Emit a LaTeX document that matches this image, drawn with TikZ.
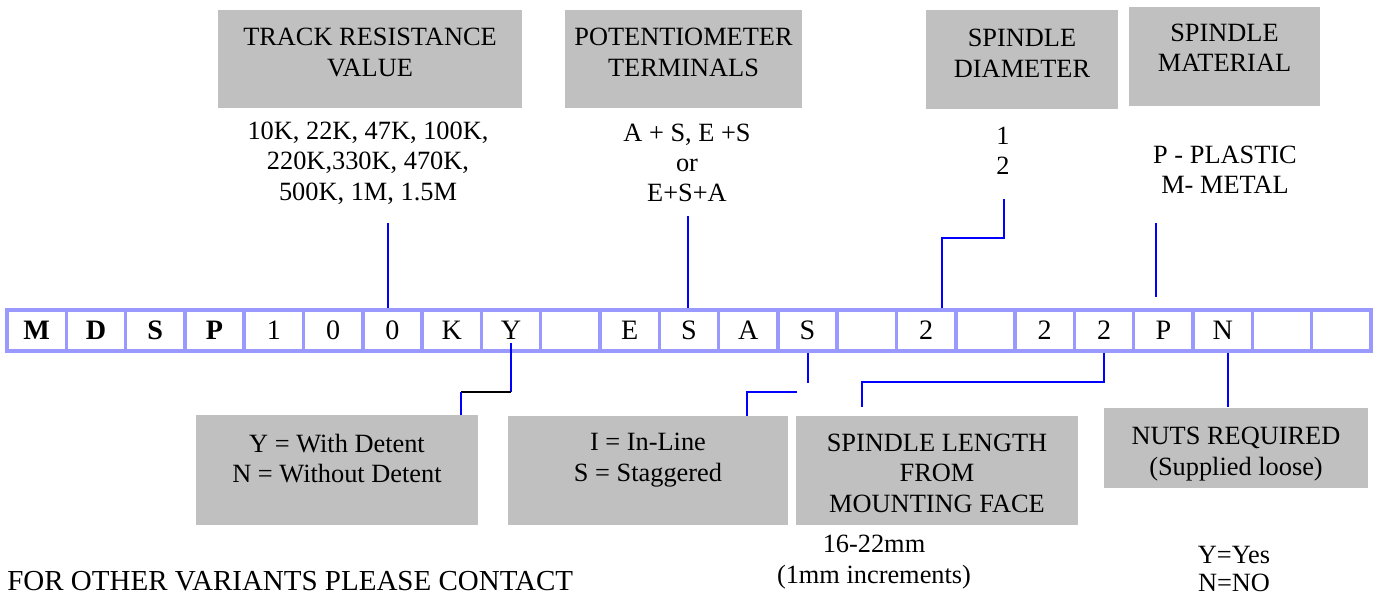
\documentclass[tikz,border=0pt]{standalone}
\usepackage{fontspec}
\setmainfont{Liberation Serif}
\usepackage{tikz}
\definecolor{CellLine}{RGB}{153,153,255}
\definecolor{BoxGray}{RGB}{192,192,192}
\definecolor{WireBlue}{RGB}{0,0,255}

\begin{document}
\begin{tikzpicture}[x=0.2mm, y=-0.2mm]
			\tikzstyle{Cell}	= [rectangle, draw=CellLine, line width=0.7mm, minimum width=11.86mm, minimum height=8.2mm, inner sep=0pt, font=\fontsize{16}{19}\selectfont]
			\tikzstyle{Box}		= [rectangle, fill=BoxGray, inner sep=0pt]
			\tikzstyle{Info}	= [align=center, inner sep=0pt, font=\fontsize{15}{17.3}\selectfont]
			\tikzstyle{Wire}	= [line width=0.4mm, WireBlue]
			\tikzstyle{Bend}	= [line width=0.4mm, black]
			
			\useasboundingbox (0,0) rectangle (1375,597);
			
			% shaded boxes
			\node (t1) at (370,59) [Box, minimum width=60.8mm, minimum height=19.6mm] {};
			\node (t2) at (683.5,59) [Box, minimum width=47.4mm, minimum height=19.6mm] {};
			\node (t3) at (1022,59.5) [Box, minimum width=38.4mm, minimum height=19.8mm] {};
			\node (t4) at (1224.5,56.5) [Box, minimum width=38.2mm, minimum height=19.8mm] {};
			\node (b1) at (337,470) [Box, minimum width=56.4mm, minimum height=22mm] {};
			\node (b2) at (648,470.5) [Box, minimum width=56mm, minimum height=21.8mm] {};
			\node (b3) at (937,470.5) [Box, minimum width=56.4mm, minimum height=21.8mm] {};
			\node (b4) at (1236,448) [Box, minimum width=52.8mm, minimum height=16mm] {};
			
			\node (l1) at (370,52.5) [Info] {TRACK RESISTANCE\\VALUE};
			\node (l2) at (683.5,52.5) [Info] {POTENTIOMETER\\TERMINALS};
			\node (l3) at (1022,53.5) [Info] {SPINDLE\\DIAMETER};
			\node (l4) at (1224.5,48) [Info] {SPINDLE\\MATERIAL};
			\node (l5) at (337,458.5) [Info] {Y = With Detent\\N = Without Detent};
			\node (l6) at (648,460) [Info] {I = In-Line\\S = Staggered};
			\node (l7) at (937,473) [Info] {SPINDLE LENGTH\\FROM\\MOUNTING FACE};
			\node (l8) at (1236,454) [Info] {NUTS REQUIRED\\(Supplied loose)};
			
			% option lists
			\node (o1) at (368,163) [Info] {10K, 22K, 47K, 100K,\\220K,330K, 470K,\\500K, 1M, 1.5M};
			\node (o2) at (687,163) [Info] {A + S, E +S\\or\\E+S+A};
			\node (o3) at (1003,151) [Info] {1\\2};
			\node (o4) at (1225,170) [Info] {P - PLASTIC\\M- METAL};
			\node (o5) at (874,562) [Info] {16-22mm\\(1mm increments)};
			\node (o6) at (1234,569) [Info, font=\fontsize{15}{16}\selectfont] {Y=Yes\\N=NO};
			\node (o7) at (7,590) [anchor=base west, inner sep=0pt, font=\fontsize{16.5}{19}\selectfont] {FOR OTHER VARIANTS PLEASE CONTACT};
			
			% part number cells
			\node (c1) at (36.65,330.5) [Cell] {\textbf{M}};
			\node (c2) at (95.95,330.5) [Cell] {\textbf{D}};
			\node (c3) at (155.25,330.5) [Cell] {\textbf{S}};
			\node (c4) at (214.55,330.5) [Cell] {\textbf{P}};
			\node (c5) at (273.85,330.5) [Cell] {1};
			\node (c6) at (333.15,330.5) [Cell] {0};
			\node (c7) at (392.45,330.5) [Cell] {0};
			\node (c8) at (451.75,330.5) [Cell] {K};
			\node (c9) at (511.05,330.5) [Cell] {Y};
			\node (c10) at (570.35,330.5) [Cell] {};
			\node (c11) at (629.65,330.5) [Cell] {E};
			\node (c12) at (688.95,330.5) [Cell] {S};
			\node (c13) at (748.25,330.5) [Cell] {A};
			\node (c14) at (807.55,330.5) [Cell] {S};
			\node (c15) at (866.85,330.5) [Cell] {};
			\node (c16) at (926.15,330.5) [Cell] {2};
			\node (c17) at (985.45,330.5) [Cell] {};
			\node (c18) at (1044.75,330.5) [Cell] {2};
			\node (c19) at (1104.05,330.5) [Cell] {2};
			\node (c20) at (1163.35,330.5) [Cell] {P};
			\node (c21) at (1222.65,330.5) [Cell] {N};
			\node (c22) at (1281.95,330.5) [Cell] {};
			\node (c23) at (1341.25,330.5) [Cell] {};
			
			% leader lines
			\coordinate (j1) at (388,223);
			\coordinate (j2) at (688,216);
			\coordinate (j3) at (1004,199);
			\coordinate (j4) at (942,238);
			\coordinate (j5) at (1156,223);
			\coordinate (j6) at (1156,297);
			\coordinate (j7) at (511,343);
			\coordinate (j8) at (461,392);
			\coordinate (j9) at (808,383);
			\coordinate (j10) at (797,392);
			\coordinate (j11) at (747,392);
			\coordinate (j12) at (862,382);
			\coordinate (j13) at (862,407);
			\coordinate (j14) at (1228,407);
			
			\draw [-] (j1) to (j1 |- c7.north) [Wire];
			\draw [-] (j2) to (j2 |- c12.north) [Wire];
			\draw [-] (j3) |- (j4) -- (j4 |- c16.north) [Wire];
			\draw [-] (j5) to (j6) [Wire];
			\draw [-] (j7) to (j7 |- j8) [Wire];
			\draw [-] (j7 |- j8) to (j8) [Bend];
			\draw [-] (j8) to (j8 |- b1.north) [Wire];
			\draw [-] (j9 |- c14.south) to (j9) [Wire];
			\draw [-] (j10) -- (j11) -- (j11 |- b2.north) [Wire];
			\draw [-] (c19.south) |- (j12) -- (j13) [Wire];
			\draw [-] (j14 |- c21.south) to (j14) [Wire];
		\end{tikzpicture}
\end{document}
